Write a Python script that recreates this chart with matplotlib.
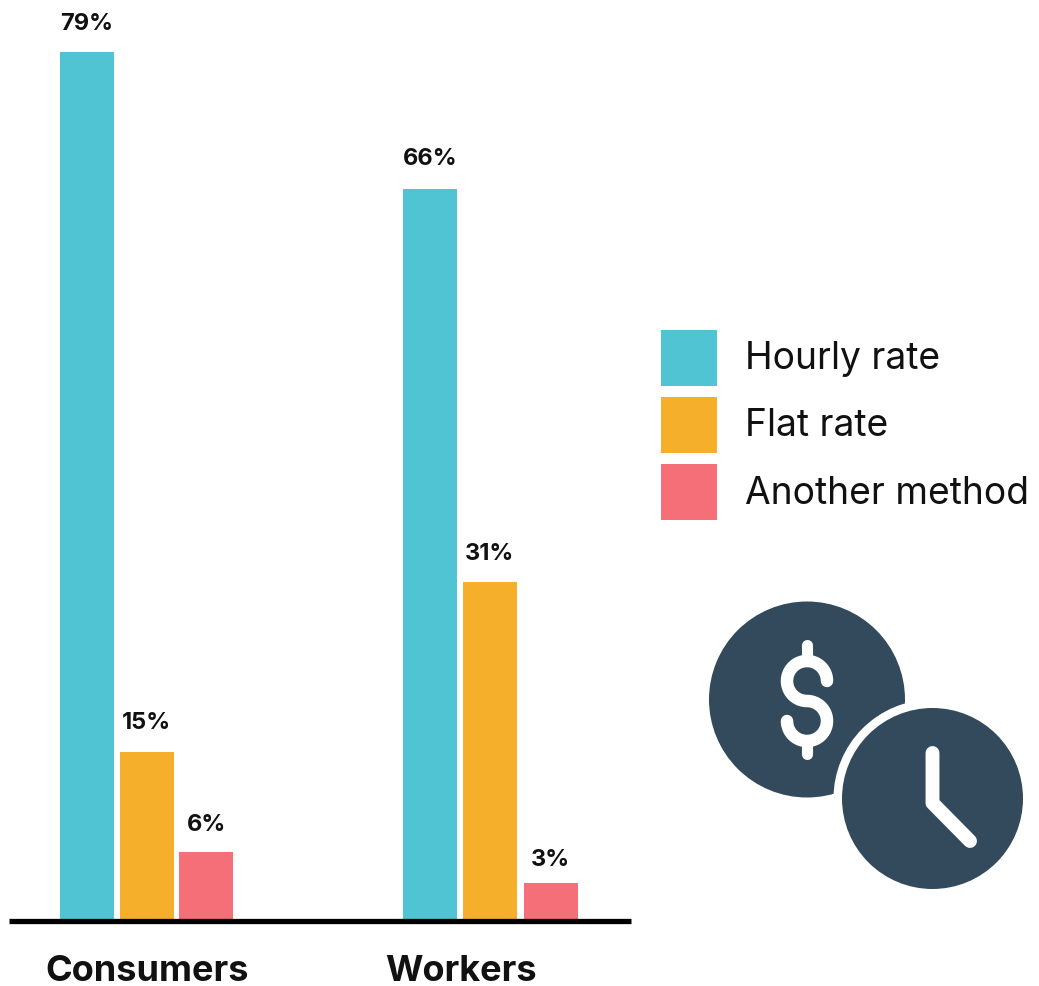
import numpy as np
import matplotlib.pyplot as plt
from matplotlib.patches import Circle, Rectangle

W, H = 1039, 986

groups = ['Consumers', 'Workers']
series = ['Hourly rate', 'Flat rate', 'Another method']
colors = ['#50C4D3', '#F6AF2B', '#F46F77']
# 막대 높이는 그림에서 읽은 값
consumers = [79, 15.3, 6.2]
workers = [66.5, 30.8, 3.4]
labels_consumers = ['79%', '15%', '6%']
labels_workers = ['66%', '31%', '3%']

plt.rcParams['font.family'] = ['Inter', 'DejaVu Sans']

fig = plt.figure(figsize=(W / 100, H / 100), dpi=100)

# bar area: pixels x 10-631, y 52-920
ax = fig.add_axes([10 / W, 1 - 920 / H, 621 / W, 868 / H])
ax.set_xlim(10, 631)
ax.set_ylim(0, 79)
ax.axis('off')

xs_c = [86.5, 146.5, 206]
xs_w = [430, 490, 550.5]
gaps_c = [28, 29, 27]
gaps_w = [30, 28, 23]
for xs, vals, labs, gaps in [(xs_c, consumers, labels_consumers, gaps_c), (xs_w, workers, labels_workers, gaps_w)]:
    ax.bar(xs, vals, width=54, color=colors, linewidth=0)
    for x, v, l, g in zip(xs, vals, labs, gaps):
        ax.annotate(l, (x, v), xytext=(0, g), textcoords='offset pixels', ha='center', va='center',
                    fontsize=17, fontweight='bold', color='#111111', annotation_clip=False)

# 바닥선
bg = fig.add_axes([0, 0, 1, 1], zorder=5)
bg.set_xlim(0, W)
bg.set_ylim(H, 0)
bg.axis('off')
bg.patch.set_alpha(0)
bg.plot([9, 631], [921, 921], color='black', lw=3.8, solid_capstyle='butt')

bg.text(147, 981, groups[0], ha='center', va='baseline', fontsize=26, fontweight='bold', color='#111111')
bg.text(461, 981, groups[1], ha='center', va='baseline', fontsize=26, fontweight='bold', color='#111111')

# 범례
for y, c, s in zip([330, 397, 464], colors, series):
    bg.add_patch(Rectangle((661, y), 56, 56, color=c, lw=0))
for y, s in zip([359, 426, 494], series):
    bg.text(745, y, s, va='center', fontsize=26.8, color='#111111')

# 아이콘
dark = '#324A5B'
bg.add_patch(Circle((807, 699.5), 98, color=dark, lw=0))
bg.add_patch(Circle((932.5, 798.5), 99, color='white', lw=0))
bg.add_patch(Circle((932.5, 798.5), 90.5, color=dark, lw=0))

# 달러 기호 : 위아래 호 두개 + 짧은 세로선
t1 = np.radians(np.linspace(0, -270, 60))
t2 = np.radians(np.linspace(-90, 180, 60))
sx = np.concatenate([807 + 20 * np.cos(t1), 807 + 20 * np.cos(t2)])
sy = np.concatenate([681 + 20 * np.sin(t1), 721 + 20 * np.sin(t2)])
bg.plot(sx, sy, color='white', lw=9, solid_capstyle='round', solid_joinstyle='round')
bg.plot([807, 807], [645, 660], color='white', lw=8, solid_capstyle='round')
bg.plot([807, 807], [742, 754], color='white', lw=8, solid_capstyle='round')

# 시계 바늘
bg.plot([932.5, 932.5, 970], [753, 803, 841], color='white', lw=10, solid_capstyle='round', solid_joinstyle='round')

fig.savefig('out.png', dpi=100)
